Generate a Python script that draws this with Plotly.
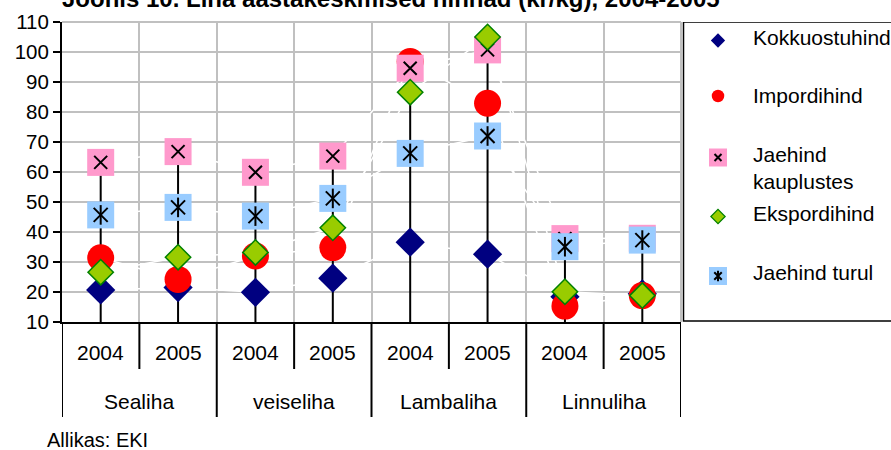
import plotly.graph_objects as go

W, H = 891, 450
L, R, T, B = 62, 0, 22, 128
PLOT_RIGHT = 681          # right edge of the plot area (px)
FONT = "Liberation Sans, Arial, sans-serif"

groups = ["Sealiha", "veiseliha", "Lambaliha", "Linnuliha"]
years = ["2004", "2005"]

# one value per group/year, order: Sealiha 2004, 2005, veiseliha 2004, 2005, ...
kokkuostuhind = [20.7, 21.5, 19.9, 24.6, 36.6, 32.6, 18.4, 19.4]
impordihind = [31.4, 24.2, 32.0, 34.8, 96.8, 82.9, 15.3, 18.8]
jaehind_kauplustes = [63.2, 66.8, 59.9, 65.3, 94.6, 100.7, 37.8, 37.9]
ekspordihind = [26.6, 31.6, 33.2, 41.4, 86.6, 105.0, 20.1, 18.8]
jaehind_turul = [45.7, 48.2, 45.3, 51.2, 66.2, 72.0, 35.1, 37.3]

series_names = ["Kokkuostuhind", "Impordihind", "Jaehind<br>kauplustes",
                "Ekspordihind", "Jaehind turul"]
source_text = "Allikas: EKI"
title_text = "Joonis 10. Liha aastakeskmised hinnad (kr/kg), 2004-2005"

Y_MIN, Y_MAX = 10, 110

n = len(groups) * len(years)
xs = list(range(n))
all_series = [kokkuostuhind, impordihind, jaehind_kauplustes, ekspordihind, jaehind_turul]

paper_w = W - L - R
paper_h = H - T - B
dom_end = (PLOT_RIGHT - L) / paper_w

fig = go.Figure()

# white connecting lines (barely visible, only where they cross the grid)
for s in all_series:
    fig.add_trace(go.Scatter(x=xs, y=s, mode='lines',
                             line=dict(color='white', width=1.5),
                             hoverinfo='skip'))

# drop lines from the axis up to the highest value of each category
drop_x, drop_y = [], []
for i in xs:
    top = max(s[i] for s in all_series)
    drop_x += [i, i, None]
    drop_y += [Y_MIN, top, None]
fig.add_trace(go.Scatter(x=drop_x, y=drop_y, mode='lines',
                         line=dict(color='black', width=2), hoverinfo='skip'))


def add_markers(xv, yv, xa, ya, style):
    for sym, size, color, lc, lw in style:
        fig.add_trace(go.Scatter(
            x=xv, y=yv, mode='markers', xaxis=xa, yaxis=ya,
            marker=dict(symbol=sym, size=size, color=color,
                        line=dict(color=lc, width=lw)),
            hoverinfo='skip'))


main_styles = [
    [('diamond', 22.5, '#000080', '#000080', 0)],
    [('circle', 27, '#ff0000', '#ff0000', 0)],
    [('square', 27, '#ff99cc', '#ff99cc', 0),
     ('x-thin-open', 13, 'black', 'black', 2)],
    [('diamond', 19.5, '#99cc00', '#008000', 1.5)],
    [('square', 27, '#99ccff', '#99ccff', 0),
     ('x-thin-open', 14, 'black', 'black', 2),
     ('line-ns-open', 14, 'black', 'black', 2)],
]
for s, st in zip(all_series, main_styles):
    add_markers(xs, s, 'x', 'y', st)

# legend drawn on its own pixel-scaled axes
LEG_LEFT = PLOT_RIGHT + 1
leg_symbol_x = 718
leg_text_x = 751
leg_symbol_y = [40.5, 96, 157.5, 216.5, 276]
leg_text_y = [37, 95, 168, 213.5, 272.5]
leg_styles = [
    [('diamond', 11, '#000080', '#000080', 0)],
    [('circle', 12.5, '#ff0000', '#ff0000', 0)],
    [('square', 18, '#ff99cc', '#ff99cc', 0),
     ('x-thin-open', 7, 'black', 'black', 2)],
    [('diamond', 11, '#99cc00', '#008000', 1.2)],
    [('square', 18, '#99ccff', '#99ccff', 0),
     ('x-thin-open', 7.5, 'black', 'black', 2),
     ('line-ns-open', 7.5, 'black', 'black', 2)],
]
for sy, st in zip(leg_symbol_y, leg_styles):
    add_markers([leg_symbol_x], [sy], 'x2', 'y2', st)

annotations = []
for name, ty in zip(series_names, leg_text_y):
    annotations.append(dict(text=name, x=leg_text_x, y=ty, xref='x2', yref='y2',
                            xanchor='left', yanchor='middle', showarrow=False,
                            align='left', font=dict(size=21, color='black')))

# category labels
for i in xs:
    annotations.append(dict(text=years[i % len(years)], x=i, y=0, xref='x', yref='paper',
                            yshift=-30, yanchor='middle', showarrow=False,
                            font=dict(size=21, color='black')))
for g, name in enumerate(groups):
    annotations.append(dict(text=name, x=g * len(years) + (len(years) - 1) / 2, y=0,
                            xref='x', yref='paper', yshift=-79, yanchor='middle',
                            showarrow=False, font=dict(size=21, color='black')))

annotations.append(dict(text=source_text, x=0, y=0, xref='paper', yref='paper',
                        xanchor='left', yanchor='middle', xshift=-17, yshift=-118,
                        showarrow=False, font=dict(size=20, color='black')))
# title sits mostly above the top edge of the picture, as in the reference
annotations.append(dict(text="<b>" + title_text + "</b>", x=0, y=1, xref='paper', yref='paper',
                        xanchor='left', yanchor='middle', xshift=-2, yshift=24,
                        showarrow=False, font=dict(size=24, color='black')))

shapes = []
# separators of the category axis
for k in range(len(groups) + 1):
    xb = k * len(years) - 0.5
    shapes.append(dict(type='line', xref='x', yref='paper', x0=xb, x1=xb,
                       y0=0, y1=-95 / paper_h, line=dict(color='black', width=2)))
for g in range(len(groups)):
    for j in range(1, len(years)):
        xb = g * len(years) + j - 0.5
        shapes.append(dict(type='line', xref='x', yref='paper', x0=xb, x1=xb,
                           y0=0, y1=-47 / paper_h, line=dict(color='black', width=2)))
# plot area frame (top / right, grey)
shapes.append(dict(type='line', xref='paper', yref='paper', x0=0, x1=dom_end, y0=1, y1=1,
                   line=dict(color='#c0c0c0', width=2), layer='below'))
shapes.append(dict(type='line', xref='paper', yref='paper', x0=dom_end, x1=dom_end, y0=0, y1=1,
                   line=dict(color='#c0c0c0', width=2), layer='below'))
# legend box
shapes.append(dict(type='rect', xref='x2', yref='y2', x0=LEG_LEFT + 1.5, x1=W + 5, y0=T, y1=321,
                   line=dict(color='black', width=1.5)))

fig.update_layout(
    width=W, height=H,
    margin=dict(l=L, r=R, t=T, b=B),
    paper_bgcolor='white', plot_bgcolor='white',
    showlegend=False,
    font=dict(family=FONT, color='black'),
    xaxis=dict(domain=[0, dom_end], range=[-0.5, n - 0.5],
               tickmode='array', tickvals=[i + 0.5 for i in range(n)],
               showticklabels=False, ticks='', showgrid=True,
               gridcolor='#c0c0c0', gridwidth=1.5, zeroline=False,
               showline=True, linecolor='black', linewidth=2),
    yaxis=dict(range=[Y_MIN, Y_MAX], dtick=10, tick0=0,
               showgrid=True, gridcolor='#c0c0c0', gridwidth=1.5, zeroline=False,
               showline=True, linecolor='black', linewidth=2,
               ticks='outside', ticklen=7, tickwidth=2, tickcolor='black',
               tickfont=dict(size=20.5, color='black')),
    xaxis2=dict(domain=[dom_end, 1], range=[PLOT_RIGHT, W], visible=False, fixedrange=True),
    yaxis2=dict(domain=[0, 1], range=[T + paper_h, T], anchor='x2', visible=False,
                fixedrange=True),
    annotations=annotations,
    shapes=shapes,
)

# the page body has a default 8px margin; drop it so the figure fills the window
fig.write_html("out.html", config={'displayModeBar': False},
               post_script="document.body.style.margin='0px';")
